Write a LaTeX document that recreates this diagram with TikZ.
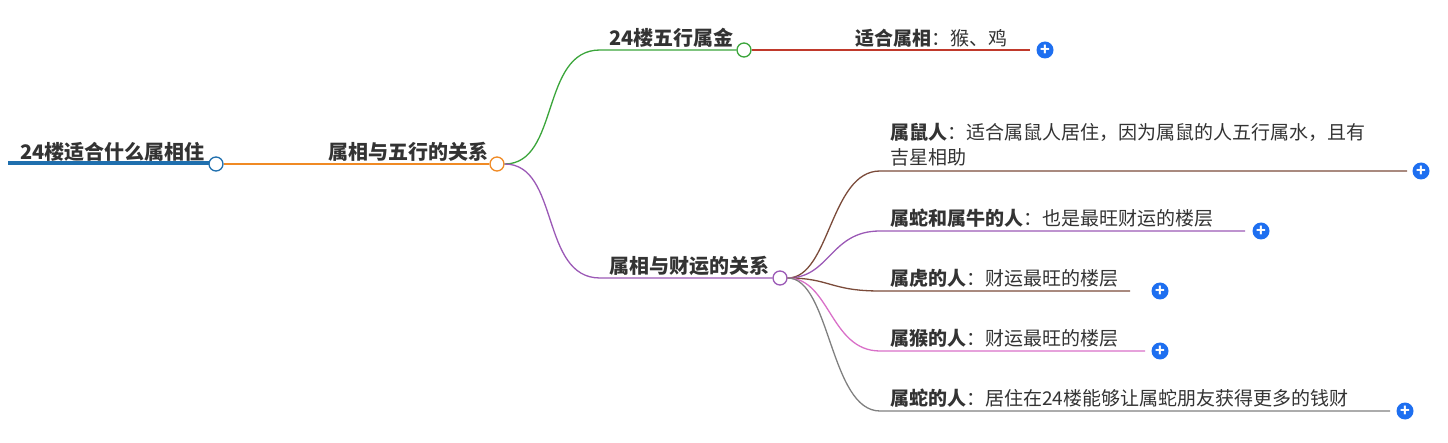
\documentclass[tikz,border=0pt]{standalone}
\usepackage{fontspec}
\setmainfont{Noto Sans CJK SC}
\usetikzlibrary{positioning}
\definecolor{rootblue}{HTML}{1F6FAE}
\definecolor{orng}{HTML}{F08A24}
\definecolor{grn}{HTML}{3AA53A}
\definecolor{redl}{HTML}{C0392B}
\definecolor{purp}{HTML}{9B59B6}
\definecolor{brwn}{HTML}{7B4B3A}
\definecolor{pink}{HTML}{D970C8}
\definecolor{gryl}{HTML}{808080}
\definecolor{plusblue}{HTML}{1E6FF0}
\definecolor{txt}{HTML}{333333}
\tikzset{
  hub/.style={circle, draw=#1, fill=white, line width=1.3pt, inner sep=0pt, minimum size=14pt},
  lbl/.style={anchor=base west, inner sep=0pt, text=txt, font=\fontsize{19}{22}\selectfont},
  head/.style={lbl, font=\bfseries\fontsize{20}{22}\selectfont},
  plus/.style={circle, fill=plusblue, inner sep=0pt, minimum size=17pt, text=white, font=\bfseries\fontsize{16}{16}\selectfont},
  branch/.style={line width=1.3pt, draw=#1}
}
\begin{document}
\begin{tikzpicture}[x=1pt,y=-1pt]
  \useasboundingbox (0,0) rectangle (1448,443);

  % 根
  \draw[line width=4pt, rootblue] (8,163) -- (210,163);
  \node[hub=rootblue] (root) at (216,164) {};
  \node[head] at (20,160) {24楼适合什么属相住};

  % 第一层
  \node[hub=orng] (wx) at (497,164) {};
  \draw[branch=orng] (root) -- (wx);
  \node[head] at (328,160) {属相与五行的关系};

  \node[hub=grn] (jin) at (744,50) {};
  \draw[branch=grn] (wx) .. controls (560,164) and (540,50) .. (600,50) -- (jin);
  \node[head] at (609,46) {24楼五行属金};

  \coordinate (jinend) at (1030,50);
  \draw[branch=redl] (jin) -- (jinend);
  \node[lbl] at (855,46) {\textbf{适合属相}：猴、鸡};
  \node[plus] (p0) at (1045,50) {+};

  \node[hub=purp] (cy) at (780,278) {};
  \draw[branch=purp] (wx) .. controls (560,164) and (540,278) .. (600,278) -- (cy);
  \node[head] at (609,274) {属相与财运的关系};

  % 财运分支
  \foreach \y/\len/\px/\col [count=\i] in {171/1407/1421/brwn, 231/1245/1261/purp, 291/1130/1160/brwn, 351/1145/1160/pink, 411/1390/1405/gryl}{
    \coordinate (e\i) at (\len,\y);
    \draw[branch=\col] (cy) .. controls (830,278) and (830,\y) .. (880,\y) -- (e\i);
    \node[plus] (p\i) at (\px,\y) {+};
  }
  \node[lbl] at (890,140) {\textbf{属鼠人}：适合属鼠人居住，因为属鼠的人五行属水，且有};
  \node[lbl] at (890,165) {吉星相助};
  \node[lbl] at (890,226) {\textbf{属蛇和属牛的人}：也是最旺财运的楼层};
  \node[lbl] at (890,286) {\textbf{属虎的人}：财运最旺的楼层};
  \node[lbl] at (890,346) {\textbf{属猴的人}：财运最旺的楼层};
  \node[lbl] at (890,406) {\textbf{属蛇的人}：居住在24楼能够让属蛇朋友获得更多的钱财};
\end{tikzpicture}
\end{document}
